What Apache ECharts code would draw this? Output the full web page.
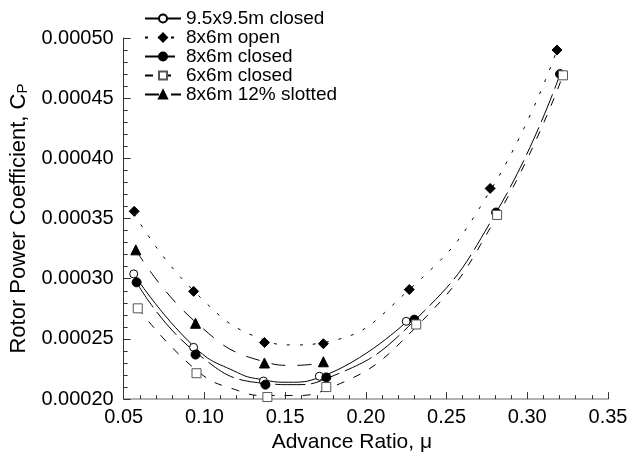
<!DOCTYPE html>
<html><head><meta charset="utf-8">
<script src="https://cdn.jsdelivr.net/npm/echarts@6/dist/echarts.min.js"></script>
<style>html,body{margin:0;padding:0;background:#fff}#c{width:638px;height:458px}</style>
</head><body><div id="c"></div>
<script>
// Series names
const seriesNames = ['9.5x9.5m closed', '8x6m open', '8x6m closed', '6x6m closed', '8x6m 12% slotted'];
// Measured points: advance ratio (mu) and power coefficient (Cp)
const mu_95closed = [0.0562, 0.0933, 0.1366, 0.1712, 0.2250];
const cp_95closed = [0.000304, 0.000243, 0.000215, 0.000219, 0.0002646];
const mu_86open = [0.0565, 0.0933, 0.1372, 0.1737, 0.2269, 0.2770, 0.3184];
const cp_86open = [0.000356, 0.0002895, 0.000247, 0.000246, 0.000291, 0.000375, 0.000490];
const mu_86closed = [0.0580, 0.0945, 0.1378, 0.1755, 0.2300, 0.2807, 0.3203];
const cp_86closed = [0.000297, 0.000237, 0.000212, 0.000218, 0.000266, 0.000355, 0.000470];
const mu_66closed = [0.0587, 0.0951, 0.1390, 0.1755, 0.2312, 0.2813, 0.3221];
const cp_66closed = [0.0002754, 0.0002215, 0.0002017, 0.000210, 0.000262, 0.000353, 0.000469];
const mu_slotted = [0.0575, 0.0945, 0.1372, 0.1737];
const cp_slotted = [0.000324, 0.000263, 0.000230, 0.000231];
// Fitted curves
const fitMu_95closed = [0.0562, 0.0933, 0.1205, 0.1366, 0.1520, 0.1712, 0.2250];
const fitCp_95closed = [0.000304, 0.000244, 0.000222, 0.000216, 0.000214, 0.000218, 0.000264];
const fitMu_86open = [0.0565, 0.0933, 0.1372, 0.1550, 0.1737, 0.2269, 0.2770, 0.3184];
const fitCp_86open = [0.000354, 0.000290, 0.000249, 0.000245, 0.000247, 0.000291, 0.000373, 0.000490];
const fitMu_86closed = [0.0580, 0.0945, 0.1378, 0.1550, 0.1755, 0.2300, 0.2807, 0.3203];
const fitCp_86closed = [0.000297, 0.000239, 0.000213, 0.000212, 0.000217, 0.000265, 0.000355, 0.000470];
const fitMu_66closed = [0.0587, 0.0951, 0.1210, 0.1390, 0.1550, 0.1755, 0.2312, 0.2813, 0.3221];
const fitCp_66closed = [0.000276, 0.000224, 0.000207, 0.000203, 0.000203, 0.000208, 0.000260, 0.000352, 0.000469];
const fitMu_slotted = [0.0575, 0.0945, 0.1372, 0.1550, 0.1737];
const fitCp_slotted = [0.000324, 0.000264, 0.000231, 0.000228, 0.000230];
// Axis ticks
const xTicks = {min: 0.05, max: 0.35, interval: 0.05};
const yTicks = {min: 0.00020, max: 0.00050, interval: 0.00005};

const zip = (a, b) => a.map((v, i) => [v, b[i]]);
const FONT = 'Liberation Sans';

const styles = [
  {symbol: 'circle', size: 8, fill: '#fff', border: '#000', dash: 'solid'},
  {symbol: 'diamond', size: 10, fill: '#000', border: '#000', dash: [3, 10]},
  {symbol: 'circle', size: 9, fill: '#000', border: '#000', dash: [30, 6]},
  {symbol: 'rect', size: 9, fill: '#fff', border: '#555', dash: [8, 10]},
  {symbol: 'triangle', size: 10, fill: '#000', border: '#000', dash: [14, 12]}
];
const points = [
  zip(mu_95closed, cp_95closed), zip(mu_86open, cp_86open), zip(mu_86closed, cp_86closed),
  zip(mu_66closed, cp_66closed), zip(mu_slotted, cp_slotted)
];
const fits = [
  zip(fitMu_95closed, fitCp_95closed), zip(fitMu_86open, fitCp_86open), zip(fitMu_86closed, fitCp_86closed),
  zip(fitMu_66closed, fitCp_66closed), zip(fitMu_slotted, fitCp_slotted)
];

const lineSeries = seriesNames.map((name, i) => ({
  name: name, type: 'line', data: fits[i], smooth: 0.5,
  symbol: styles[i].symbol, symbolSize: styles[i].size, showSymbol: false,
  lineStyle: {color: '#000', width: 1, type: styles[i].dash},
  itemStyle: {color: styles[i].fill, borderColor: styles[i].border, borderWidth: 1},
  emphasis: {disabled: true}, z: 2
}));
const markSeries = seriesNames.map((name, i) => ({
  name: name, type: 'scatter', data: points[i],
  symbol: styles[i].symbol, symbolSize: styles[i].size,
  itemStyle: {color: styles[i].fill, borderColor: styles[i].border, borderWidth: 1, opacity: 1},
  emphasis: {disabled: true}, z: 3
}));

const chart = echarts.init(document.getElementById('c'), null, {renderer: 'canvas'});
chart.setOption({
  animation: false,
  backgroundColor: '#fff',
  grid: {left: 123, right: 30, top: 38, bottom: 58},
  legend: {
    orient: 'vertical',
    left: 139, top: 4,
    itemWidth: 36, itemHeight: 10, itemGap: 0,
    textStyle: {fontFamily: FONT, fontSize: 19, color: '#000', lineHeight: 18.5},
    data: seriesNames
  },
  xAxis: {
    type: 'value',
    min: xTicks.min, max: xTicks.max, interval: xTicks.interval,
    name: 'Advance Ratio, μ', nameLocation: 'middle', nameGap: 30,
    nameTextStyle: {fontFamily: FONT, fontSize: 21, color: '#000', padding: [0, 28, 0, 0]},
    axisLine: {show: true, lineStyle: {color: '#999', width: 1.5}},
    axisTick: {show: true, inside: true, length: 7, lineStyle: {color: '#333'}},
    minorTick: {show: true, splitNumber: 5, length: 4, lineStyle: {color: '#333'}},
    splitLine: {show: false},
    axisLabel: {fontFamily: FONT, fontSize: 20, color: '#000', margin: 8, formatter: v => v.toFixed(2)}
  },
  yAxis: {
    type: 'value',
    min: yTicks.min, max: yTicks.max, interval: yTicks.interval,
    name: 'Rotor Power Coefficient, C{sub|P}', nameLocation: 'middle', nameGap: 90, nameRotate: 90,
    nameTextStyle: {fontFamily: FONT, fontSize: 22, color: '#000',
      rich: {sub: {fontFamily: FONT, fontSize: 15, color: '#000', verticalAlign: 'bottom', padding: [8, 0, 0, 0]}}},
    axisLine: {show: true, lineStyle: {color: '#333', width: 1}},
    axisTick: {show: true, inside: true, length: 7, lineStyle: {color: '#333'}},
    minorTick: {show: true, splitNumber: 5, length: 4, lineStyle: {color: '#333'}},
    splitLine: {show: false},
    axisLabel: {fontFamily: FONT, fontSize: 20, color: '#000', margin: 10, formatter: v => v.toFixed(5)}
  },
  series: lineSeries.concat(markSeries)
});
</script>
</body></html>
